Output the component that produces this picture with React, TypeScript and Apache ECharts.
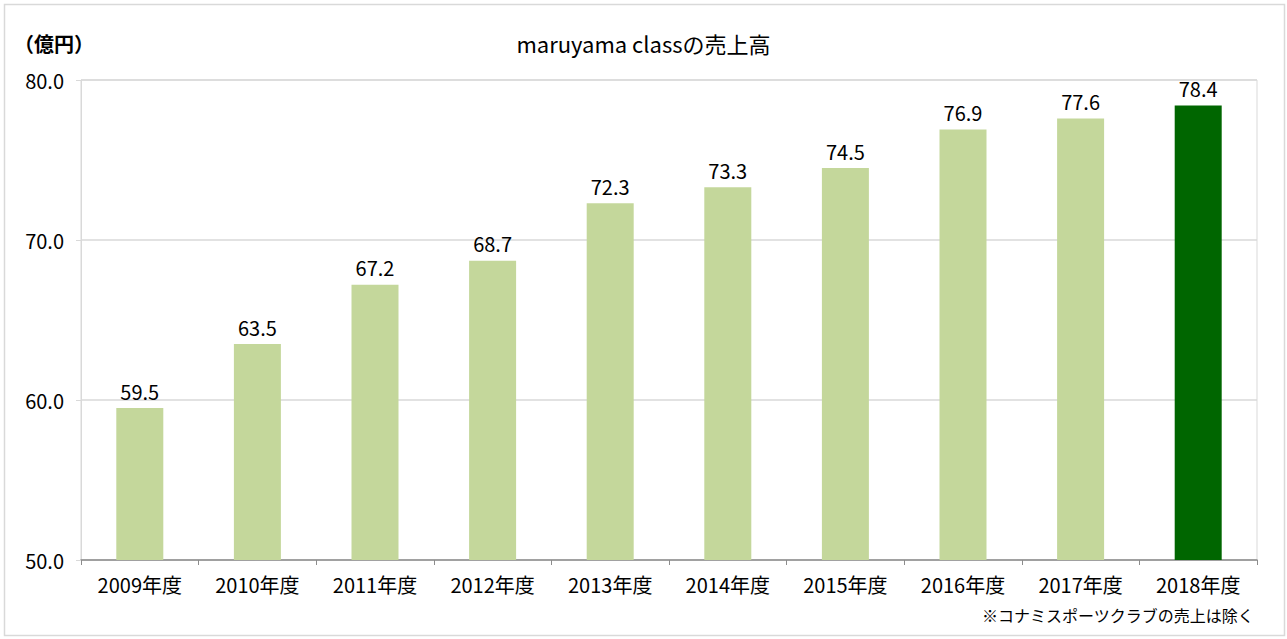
import React, { useEffect, useRef } from "react";
import * as echarts from "echarts";

const categories = ["2009年度", "2010年度", "2011年度", "2012年度", "2013年度", "2014年度", "2015年度", "2016年度", "2017年度", "2018年度"];
const sales = [59.5, 63.5, 67.2, 68.7, 72.3, 73.3, 74.5, 76.9, 77.6, 78.4];
const titleText = "maruyama classの売上高";
const unitText = "（億円）";
const noteText = "※コナミスポーツクラブの売上は除く";

const FONT = "'Noto Sans CJK JP', 'Noto Sans', sans-serif";

export default function App() {
  const ref = useRef<HTMLDivElement>(null);
  useEffect(() => {
    const chart = echarts.init(ref.current!, null, { renderer: "svg" });
    const last = sales.length - 1;
    chart.setOption({
      animation: false,
      backgroundColor: "#ffffff",
      textStyle: { fontFamily: FONT },
      title: {
        text: titleText,
        left: "center",
        top: 27,
        textStyle: { fontFamily: FONT, fontSize: 22, fontWeight: "normal", color: "#000" },
      },
      graphic: [
        {
          type: "rect",
          shape: { x: 4.5, y: 4.5, width: 1280, height: 631 },
          style: { fill: "none", stroke: "#d9d9d9", lineWidth: 1.5 },
          silent: true,
          z: -1,
        },
        {
          type: "text",
          left: 14,
          top: 33,
          style: { text: unitText, font: `bold 20px ${FONT}`, fill: "#000" },
        },
        {
          type: "text",
          right: 33,
          top: 607,
          style: { text: noteText, font: `16px ${FONT}`, fill: "#000" },
        },
      ],
      grid: { left: 81, right: 30, top: 80, bottom: 79, show: true, borderColor: "#d9d9d9", borderWidth: 1 },
      xAxis: {
        type: "category",
        data: categories,
        axisLine: { show: true, lineStyle: { color: "#8c8c8c", width: 1.5 } },
        axisTick: { show: true, length: 5, lineStyle: { color: "#8c8c8c" } },
        axisLabel: { color: "#000", fontSize: 20, fontFamily: FONT, margin: 14 },
      },
      yAxis: {
        type: "value",
        min: 50,
        max: 80,
        interval: 10,
        axisLine: { show: true, lineStyle: { color: "#d9d9d9" } },
        axisTick: { show: true, length: 5, lineStyle: { color: "#d9d9d9" } },
        axisLabel: { color: "#000", fontSize: 20, fontFamily: FONT, margin: 17, formatter: (v: number) => v.toFixed(1) },
        splitLine: { show: true, lineStyle: { color: "#d9d9d9", width: 1.5 } },
      },
      series: [
        {
          type: "bar",
          data: sales.map((v, i) => ({ value: v, itemStyle: { color: i === last ? "#006600" : "#c4d79b" } })),
          barWidth: 47,
          label: {
            show: true,
            position: "top",
            distance: 7,
            color: "#000",
            fontSize: 20,
            fontFamily: FONT,
            formatter: (p: any) => Number(p.value).toFixed(1),
          },
        },
      ],
    });
    return () => chart.dispose();
  }, []);
  return <div ref={ref} style={{ position: "fixed", left: 0, top: 0, width: 1287, height: 639 }} />;
}
